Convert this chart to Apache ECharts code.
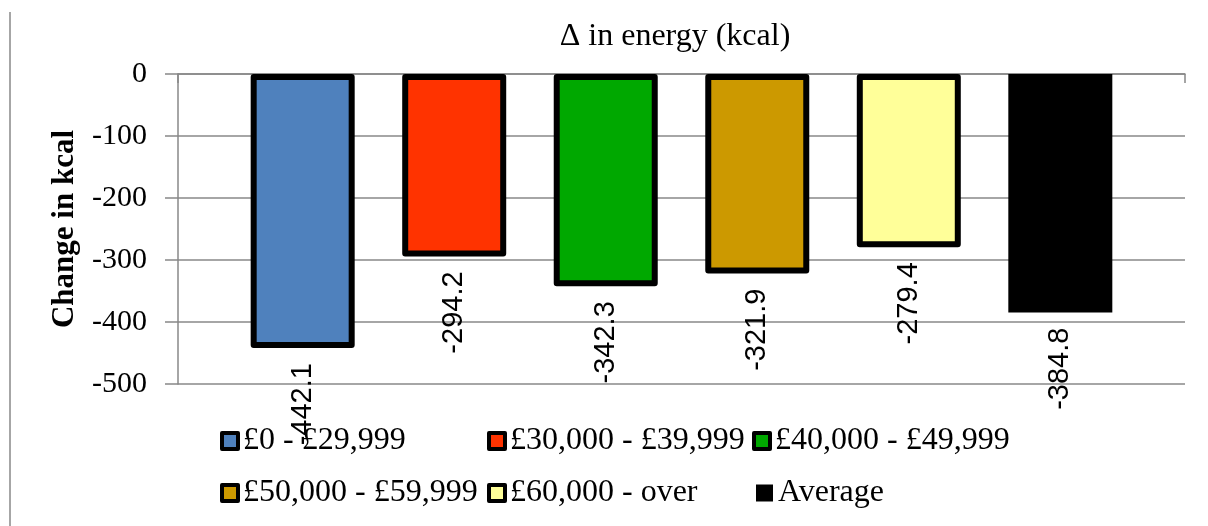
<!DOCTYPE html>
<html>
<head>
<meta charset="utf-8">
<script src="https://cdn.jsdelivr.net/npm/echarts@6/dist/echarts.min.js"></script>
<style>
  html, body { margin: 0; padding: 0; background: #fff; }
  #chart { width: 1208px; height: 526px; }
</style>
</head>
<body>
<div id="chart"></div>
<script>
// income groups (one series each) and their change in energy
const groups = ['£0 - £29,999', '£30,000 - £39,999', '£40,000 - £49,999', '£50,000 - £59,999', '£60,000 - over', 'Average'];
const values = [-442.1, -294.2, -342.3, -321.9, -279.4, -384.8];
const colors = ['#4F81BD', '#FF3300', '#00A800', '#CC9900', '#FFFF99', '#000000'];
const category = ['Δ in energy (kcal)'];
const yMin = -500, yMax = 0, yStep = 100;

// legend placement (Excel style, two rows of three columns)
const legendPos = [[220, 425], [487, 425], [752, 425], [220, 477], [487, 477], [756, 477]];

const serif = '"Liberation Serif", "Times New Roman", serif';
const sans = '"Liberation Sans", Arial, sans-serif';

const chart = echarts.init(document.getElementById('chart'));

const series = groups.map((name, i) => ({
  name: name,
  type: 'bar',
  data: [values[i]],
  barWidth: 104,
  barGap: '45.7%',
  itemStyle: {
    color: colors[i],
    borderColor: '#000',
    borderWidth: name === 'Average' ? 0 : 6,
    borderJoin: 'round'
  },
  label: {
    show: true,
    position: 'outside',
    rotate: 90,
    align: 'right',
    verticalAlign: 'middle',
    distance: 15,
    fontFamily: sans,
    fontSize: 29,
    color: '#000'
  },
  silent: true,
  animation: false
}));

chart.setOption({
  animation: false,
  title: {
    text: category[0],
    left: 675,
    top: 21,
    padding: 0,
    textAlign: 'center',
    textStyle: { fontFamily: serif, fontSize: 32, fontWeight: 'normal', color: '#000' }
  },
  legend: groups.map((name, i) => ({
    data: [name],
    left: legendPos[i][0],
    top: legendPos[i][1],
    padding: 0,
    icon: 'rect',
    itemWidth: name === 'Average' ? 17 : 16,
    itemHeight: name === 'Average' ? 17 : 16,
    selectedMode: false,
    itemStyle: { borderWidth: name === 'Average' ? 0 : 4, borderColor: '#000' },
    textStyle: { fontFamily: serif, fontSize: 32, color: '#000' }
  })),
  grid: { left: 178, right: 23, top: 74, bottom: 142 },
  xAxis: {
    type: 'category',
    data: category,
    axisLine: { show: true, lineStyle: { color: '#888', width: 1.5 } },
    axisTick: { show: true, length: 9, lineStyle: { color: '#888', width: 1.5 } },
    axisLabel: { show: false }
  },
  yAxis: {
    type: 'value',
    min: yMin,
    max: yMax,
    interval: yStep,
    name: 'Change in kcal',
    nameLocation: 'middle',
    nameGap: 98,
    nameRotate: 90,
    nameTextStyle: { fontFamily: serif, fontSize: 31, fontWeight: 'bold', color: '#000' },
    axisLine: { show: true, lineStyle: { color: '#888', width: 1.5 } },
    axisTick: { show: true, length: 13, lineStyle: { color: '#888', width: 1.5 } },
    axisLabel: { margin: 31, fontFamily: serif, fontSize: 30, color: '#000' },
    splitLine: { lineStyle: { color: '#888', width: 1.5 } }
  },
  graphic: [{
    type: 'line',
    shape: { x1: 10, y1: 12, x2: 10, y2: 526 },
    style: { stroke: '#888', lineWidth: 1.5 },
    silent: true
  }],
  series: series
});
</script>
</body>
</html>
